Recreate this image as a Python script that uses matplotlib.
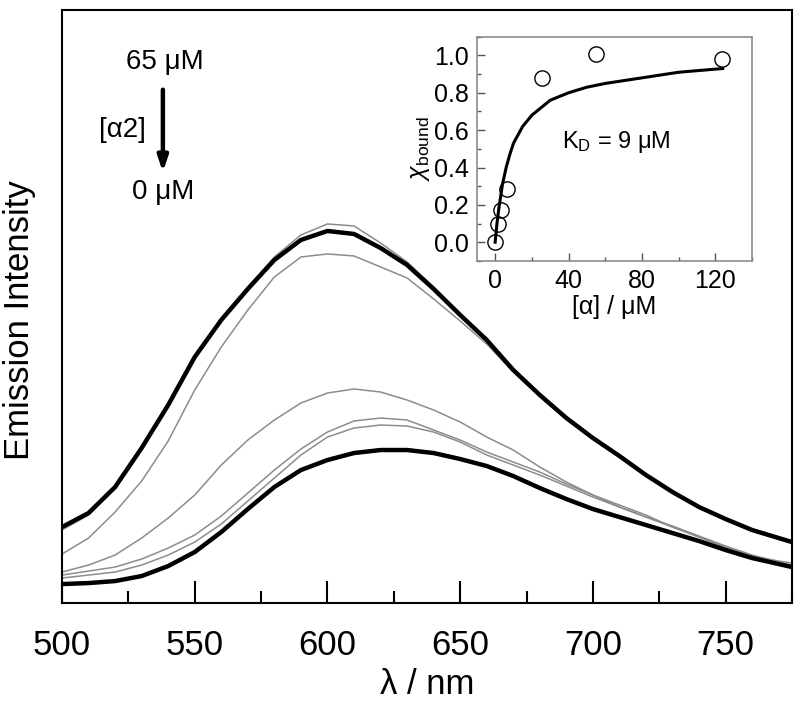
import matplotlib
matplotlib.use('Agg')
import matplotlib.pyplot as plt
from matplotlib.ticker import MultipleLocator

plt.rcParams['font.family'] = ['Liberation Sans', 'DejaVu Sans']
plt.rcParams['mathtext.fontset'] = 'custom'
plt.rcParams['mathtext.rm'] = 'Liberation Sans'
plt.rcParams['mathtext.it'] = 'Liberation Sans:italic'

# 发射光谱 (波长 nm, 强度 任意单位)
wl = [500, 510, 520, 530, 540, 550, 560, 570, 580, 590, 600, 610, 620, 630,
      640, 650, 660, 670, 680, 690, 700, 710, 720, 730, 740, 750, 760, 770, 775]

spec_65uM = [76, 90, 116, 155, 198, 246, 283, 314, 343, 363, 372, 369, 355, 338,
             314, 288, 263, 233, 208, 185, 165, 147, 128, 111, 96, 84, 73, 65, 61]
spec_g1 = [73, 88, 115, 154, 198, 247, 285, 316, 346, 368, 379, 377, 360, 341,
           316, 289, 264, 234, 209, 186, 166, 148, 129, 112, 97, 85, 74, 66, 62]
spec_g2 = [49, 65, 91, 122, 162, 213, 256, 293, 326, 346, 349, 347, 336, 325,
           304, 282, 259, 231, 207, 184, 164, 146, 127, 110, 95, 83, 72, 64, 60]
spec_g3 = [31, 38, 48, 65, 85, 108, 138, 163, 183, 200, 210, 214, 211, 203,
           193, 181, 166, 153, 136, 121, 108, 98, 88, 76, 66, 55, 47, 42, 40]
spec_g4 = [28, 32, 36, 44, 55, 68, 87, 110, 133, 154, 171, 182, 185, 183,
           173, 163, 151, 141, 131, 119, 108, 96, 86, 77, 67, 57, 48, 41, 38]
spec_g5 = [25, 28, 31, 38, 48, 61, 79, 102, 125, 148, 166, 175, 178, 177,
           171, 161, 148, 138, 128, 117, 106, 96, 86, 76, 66, 56, 47, 40, 37]
spec_0uM = [19, 20, 22, 27, 37, 51, 71, 94, 116, 133, 143, 150, 153, 153,
            150, 144, 137, 127, 115, 104, 94, 86, 78, 70, 62, 53, 45, 39, 36]

# 插图: 结合分数
conc = [0, 1.5, 3.3, 6.6, 25.7, 54.9, 123.4]
chi_bound = [0.0, 0.10, 0.17, 0.285, 0.88, 1.01, 0.98]
fit_x = [0, 1, 2, 4, 6, 8, 10, 15, 20, 30, 40, 50, 60, 80, 100, 124]
fit_y = [0, 0.10, 0.18, 0.31, 0.40, 0.47, 0.53, 0.62, 0.68, 0.76, 0.80, 0.83,
         0.85, 0.88, 0.91, 0.93]

fig = plt.figure(figsize=(8, 7.07), dpi=100)
ax = fig.add_axes([0.0775, 0.147, 0.9125, 0.839])

for s in [spec_g1, spec_g2, spec_g3, spec_g4, spec_g5]:
    ax.plot(wl, s, color='#8c8c8c', linewidth=1.1)
for s in [spec_65uM, spec_0uM]:
    ax.plot(wl, s, color='black', linewidth=3.2)

ax.set_xlim(500, 775)
ax.set_ylim(0, 593)
ax.xaxis.set_major_locator(MultipleLocator(50))
ax.xaxis.set_minor_locator(MultipleLocator(25))
ax.tick_params(axis='x', which='major', direction='in', length=16, width=1.5,
               labelsize=25, pad=19)
ax.tick_params(axis='x', which='minor', direction='in', length=8.5, width=1.5)
ax.set_yticks([])
for sp in ax.spines.values():
    sp.set_linewidth(1.5)
ax.set_xlabel('λ / nm', fontsize=25, labelpad=4)
ax.set_ylabel('Emission Intensity', fontsize=25)
ax.yaxis.set_label_coords(-0.036, 0.477)

# 浓度箭头标注
ax.text(538.7, 541, '65 μM', fontsize=20, ha='center', va='center')
ax.annotate('', xy=(538, 428), xytext=(538, 516),
            arrowprops=dict(arrowstyle='-|>,head_width=0.3,head_length=0.9',
                            color='black', lw=3.2))
ax.text(522.6, 473, '[α2]', fontsize=20, ha='center', va='center')
ax.text(538, 411, '0 μM', fontsize=20, ha='center', va='center')

# 插图
ins = fig.add_axes([0.596, 0.631, 0.344, 0.317])
ins.plot(fit_x, fit_y, color='black', linewidth=2.2)
ins.plot(conc, chi_bound, 'o', markersize=11, markerfacecolor='none',
         markeredgecolor='black', markeredgewidth=1.0)
ins.set_xlim(-10, 140)
ins.set_ylim(-0.1, 1.1)
ins.xaxis.set_major_locator(MultipleLocator(40))
ins.xaxis.set_minor_locator(MultipleLocator(20))
ins.yaxis.set_major_locator(MultipleLocator(0.2))
ins.yaxis.set_minor_locator(MultipleLocator(0.1))
ins.yaxis.set_major_formatter(plt.FormatStrFormatter('%.1f'))
ins.tick_params(which='major', direction='in', length=6, width=1, color='#555555',
                labelsize=18, pad=6)
ins.tick_params(which='minor', direction='in', length=3, width=1, color='#555555')
for sp in ins.spines.values():
    sp.set_color('#8c8c8c')
    sp.set_linewidth(1.2)
ins.set_xlabel('[α] / μM', fontsize=18, labelpad=1)
ins.set_ylabel(r'$\chi_{\rm bound}$', fontsize=18, labelpad=1)
ins.text(36.7, 0.535, r'K$_{\rm D}$ = 9 μM', fontsize=17, ha='left', va='center')

plt.savefig('out.png', dpi=100)
